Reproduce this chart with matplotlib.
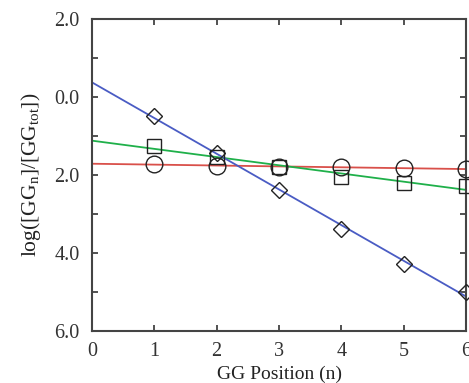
import numpy as np
import matplotlib
matplotlib.use('Agg')
import matplotlib.pyplot as plt

plt.rcParams['font.family'] = ['Liberation Serif', 'DejaVu Serif']

# GG position and log([GG_n]/[GG_tot]) for three series
pos = np.array([1, 2, 3, 4, 5, 6])
circles = np.array([-1.72, -1.77, -1.79, -1.79, -1.82, -1.85])
squares = np.array([-1.26, -1.54, -1.79, -2.05, -2.21, -2.28])
diamonds = np.array([-0.49, -1.44, -2.38, -3.38, -4.28, -5.00])

ytick_vals = [2, 0, -2, -4, -6]
ytick_labels = ['2.0', '0.0', '2.0', '4.0', '6.0']

fig = plt.figure(figsize=(4.69, 3.83), dpi=100)
ax = fig.add_axes([0.196, 0.136, 0.798, 0.814])

xx = np.array([0, 6])
series = [(circles, 'o', '#d9504a', 12),
          (squares, 's', '#1fb04a', 10),
          (diamonds, 'D', '#4a5cc4', 8.5)]
for vals, mk, col, ms in series:
    p = np.polyfit(pos, vals, 1)
    ax.plot(xx, np.polyval(p, xx), color=col, lw=1.3, zorder=2)
    ax.plot(pos, vals, linestyle='none', marker=mk, ms=ms, mfc='none',
            mec='#222222', mew=1.0, zorder=3, clip_on=False)

ax.set_xlim(0, 6)
ax.set_ylim(-6, 2)
ax.set_xticks(range(0, 7))
ax.set_yticks(ytick_vals)
ax.set_yticklabels(ytick_labels)
ax.set_yticks([1, -1, -3, -5], minor=True)
ax.tick_params(axis='both', which='both', direction='in', top=True, right=True,
               labelsize=14.5, colors='#333333', length=4, width=1.2)
ax.tick_params(axis='y', which='major', pad=9)
ax.tick_params(axis='x', which='major', pad=8)
for sp in ax.spines.values():
    sp.set_linewidth(1.5)
    sp.set_color('#444444')

ax.set_xlabel('GG Position (n)', fontsize=14, color='#222222', labelpad=3)
ax.set_ylabel(r'$\mathregular{log([GG_n]/[GG_{tot}])}$', fontsize=15.5,
              color='#222222', labelpad=8)

fig.savefig('out.png', dpi=100)
